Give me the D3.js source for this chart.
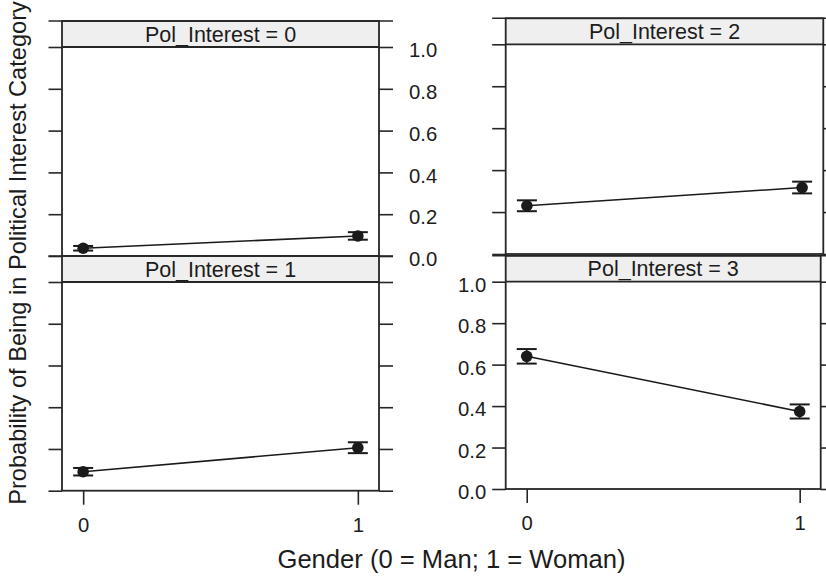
<!DOCTYPE html>
<html>
<head>
<meta charset="utf-8">
<script src="https://cdn.jsdelivr.net/npm/d3@7"></script>
<style>
  body { margin: 0; background: #fff; }
  text { font-family: "Liberation Sans", Arial, sans-serif; fill: #1c1c1c; }
</style>
</head>
<body>
<div id="chart-area"></div>
<script>
// DATA
var categories = ["Pol_Interest = 0", "Pol_Interest = 1", "Pol_Interest = 2", "Pol_Interest = 3"];
var genders = [0, 1];
var prob = [[0.037, 0.096], [0.091, 0.206], [0.230, 0.317], [0.640, 0.374]];
var lower = [[0.026, 0.078], [0.073, 0.180], [0.204, 0.289], [0.605, 0.340]];
var upper = [[0.048, 0.114], [0.109, 0.232], [0.256, 0.345], [0.675, 0.408]];
var yTicks = [0, 0.2, 0.4, 0.6, 0.8, 1.0];

// layout of the four panels (plot area + strip)
var panels = [
  { x0: 62, x1: 379, stripTop: 21, top: 47, bottom: 256, axis: "right" },
  { x0: 62, x1: 379, stripTop: 256, top: 282, bottom: 490.7, axis: "none", xAxis: true },
  { x0: 505.7, x1: 823.3, stripTop: 18.3, top: 44.3, bottom: 254, axis: "none" },
  { x0: 505.7, x1: 820.7, stripTop: 255.7, top: 281.7, bottom: 489, axis: "left", xAxis: true }
];

var width = 826, height = 576;
var ink = "#262626";

var svg = d3.select("#chart-area")
    .append("svg")
    .attr("width", width)
    .attr("height", height);

panels.forEach(function (p, i) {
    var x = d3.scaleLinear().domain([-0.077, 1.077]).range([p.x0, p.x1]);
    var y = d3.scaleLinear().domain([0, 1]).range([p.bottom, p.top]);
    var g = svg.append("g");

    // strip
    g.append("rect")
        .attr("x", p.x0).attr("y", p.stripTop)
        .attr("width", p.x1 - p.x0).attr("height", p.top - p.stripTop)
        .attr("fill", "#efefef");

    // ticks on both sides (unlabeled unless axis side says so)
    var left = d3.axisLeft(y).tickValues(yTicks).tickSize(13.5)
        .tickFormat(p.axis === "left" ? d3.format(".1f") : "").tickPadding(6);
    var right = d3.axisRight(y).tickValues(yTicks).tickSize(14)
        .tickFormat(p.axis === "right" ? d3.format(".1f") : "").tickPadding(16);
    [[left, p.x0], [right, p.x1]].forEach(function (a) {
        var ag = g.append("g")
            .attr("transform", "translate(" + a[1] + ",0)")
            .call(a[0]);
        ag.select(".domain").remove();
        ag.selectAll("line").attr("stroke", ink).attr("stroke-width", 1.6);
        ag.selectAll("text")
            .attr("font-size", "20.3px")
            .attr("dy", "0.48em")
            .style("font-family", "'Liberation Sans', Arial, sans-serif")
            .attr("fill", "#1c1c1c");
    });

    // line at strip top extended like a tick
    g.append("line")
        .attr("x1", p.x0 - 13.5).attr("x2", p.x1 + 14)
        .attr("y1", p.stripTop).attr("y2", p.stripTop)
        .attr("stroke", ink).attr("stroke-width", 1.6);

    // borders
    g.append("rect")
        .attr("x", p.x0).attr("y", p.stripTop)
        .attr("width", p.x1 - p.x0).attr("height", p.bottom - p.stripTop)
        .attr("fill", "none").attr("stroke", ink).attr("stroke-width", 1.8);
    g.append("line")
        .attr("x1", p.x0).attr("x2", p.x1)
        .attr("y1", p.top).attr("y2", p.top)
        .attr("stroke", ink).attr("stroke-width", 1.8);

    // strip label
    g.append("text")
        .attr("x", (p.x0 + p.x1) / 2)
        .attr("y", p.top - 5.5)
        .attr("text-anchor", "middle")
        .attr("font-size", "21.5px")
        .text(categories[i]);

    // x axis below bottom panels
    if (p.xAxis) {
        var xa = g.append("g")
            .attr("transform", "translate(0," + p.bottom + ")")
            .call(d3.axisBottom(x).tickValues(genders).tickSize(14)
                .tickFormat(d3.format("d")).tickPadding(12.5));
        xa.select(".domain").remove();
        xa.selectAll("line").attr("stroke", ink).attr("stroke-width", 1.6);
        xa.selectAll("text")
            .attr("font-size", "20.3px")
            .style("font-family", "'Liberation Sans', Arial, sans-serif")
            .attr("fill", "#1c1c1c");
    }

    // connecting line
    var line = d3.line()
        .x(function (d) { return x(d); })
        .y(function (d) { return y(prob[i][d]); });
    g.append("path")
        .datum(genders)
        .attr("d", line)
        .attr("fill", "none")
        .attr("stroke", "#1a1a1a")
        .attr("stroke-width", 1.6);

    // error bars
    var eb = g.selectAll(".eb").data(genders).enter().append("g");
    eb.append("line")
        .attr("x1", function (d) { return x(d); }).attr("x2", function (d) { return x(d); })
        .attr("y1", function (d) { return y(lower[i][d]); })
        .attr("y2", function (d) { return y(upper[i][d]); })
        .attr("stroke", "#1a1a1a").attr("stroke-width", 1.6);
    [lower, upper].forEach(function (arr) {
        eb.append("line")
            .attr("x1", function (d) { return x(d) - 10; })
            .attr("x2", function (d) { return x(d) + 10; })
            .attr("y1", function (d) { return y(arr[i][d]); })
            .attr("y2", function (d) { return y(arr[i][d]); })
            .attr("stroke", "#1a1a1a").attr("stroke-width", 2);
    });

    // points
    g.selectAll("circle").data(genders).enter().append("circle")
        .attr("cx", function (d) { return x(d); })
        .attr("cy", function (d) { return y(prob[i][d]); })
        .attr("r", 5.8)
        .attr("fill", "#1a1a1a");
});

// axis titles
svg.append("text")
    .attr("x", 451.5)
    .attr("y", 568)
    .attr("text-anchor", "middle")
    .attr("font-size", "25.6px")
    .text("Gender (0 = Man; 1 = Woman)");

svg.append("text")
    .attr("transform", "translate(26,253) rotate(-90)")
    .attr("text-anchor", "middle")
    .attr("font-size", "23.6px")
    .text("Probability of Being in Political Interest Category");
</script>
</body>
</html>
